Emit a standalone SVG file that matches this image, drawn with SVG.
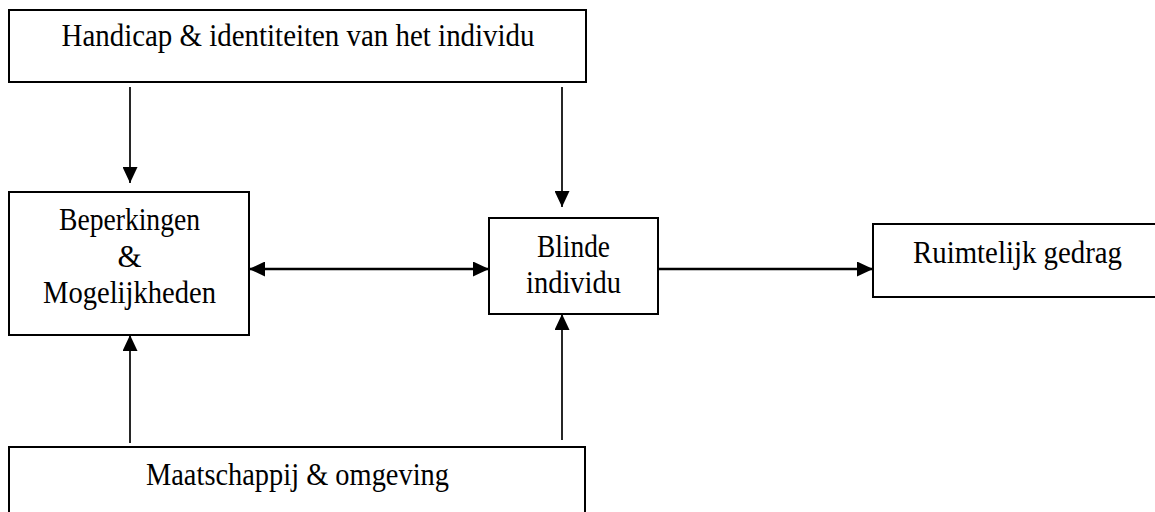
<svg xmlns="http://www.w3.org/2000/svg" width="1155" height="512" viewBox="0 0 1155 512">
<style>
.box{fill:#fff;stroke:#000;stroke-width:2}
.lbl{font-family:"Liberation Serif","Times New Roman",serif;font-size:31px;fill:#000;text-anchor:middle}
.con{stroke:#000;fill:none}
.v{stroke-width:1.7}
.h{stroke-width:2.6}
</style>
<defs>
<marker id="ah" markerUnits="userSpaceOnUse" markerWidth="16" markerHeight="15" refX="16" refY="7.5" orient="auto-start-reverse" viewBox="0 0 16 15">
<path d="M0,0 L16,7.5 L0,15 Z" fill="#000"/>
</marker>
</defs>
<rect width="1155" height="512" fill="#fff"/>
<g id="connectors">
<line class="con v" x1="130" y1="87" x2="130" y2="183" marker-end="url(#ah)"/>
<line class="con v" x1="562" y1="87" x2="562" y2="207" marker-end="url(#ah)"/>
<line class="con h" x1="249" y1="269" x2="489" y2="269" marker-start="url(#ah)" marker-end="url(#ah)"/>
<line class="con h" x1="658" y1="269" x2="873" y2="269" marker-end="url(#ah)"/>
<line class="con v" x1="130" y1="443" x2="130" y2="335" marker-end="url(#ah)"/>
<line class="con v" x1="562" y1="440" x2="562" y2="314" marker-end="url(#ah)"/>
</g>
<g id="node-handicap">
<rect class="box" x="9" y="10" width="577" height="72"/>
<text class="lbl" x="298" y="46" textLength="473" lengthAdjust="spacingAndGlyphs">Handicap &amp; identiteiten van het individu</text>
</g>
<g id="node-beperkingen">
<rect class="box" x="9" y="192" width="240" height="143"/>
<text class="lbl" x="129.5" y="230" textLength="141" lengthAdjust="spacingAndGlyphs">Beperkingen</text>
<text class="lbl" x="129.5" y="266.5">&amp;</text>
<text class="lbl" x="129.5" y="303" textLength="173" lengthAdjust="spacingAndGlyphs">Mogelijkheden</text>
</g>
<g id="node-blinde">
<rect class="box" x="489" y="218" width="169" height="96"/>
<text class="lbl" x="573.5" y="256.5" textLength="73" lengthAdjust="spacingAndGlyphs">Blinde</text>
<text class="lbl" x="573.5" y="292.5" textLength="95" lengthAdjust="spacingAndGlyphs">individu</text>
</g>
<g id="node-ruimtelijk">
<rect class="box" x="873" y="224" width="300" height="73"/>
<text class="lbl" x="1017.5" y="263" textLength="209" lengthAdjust="spacingAndGlyphs">Ruimtelijk gedrag</text>
</g>
<g id="node-maatschappij">
<rect class="box" x="9" y="447" width="576" height="80"/>
<text class="lbl" x="297.5" y="485" textLength="303" lengthAdjust="spacingAndGlyphs">Maatschappij &amp; omgeving</text>
</g>
</svg>
